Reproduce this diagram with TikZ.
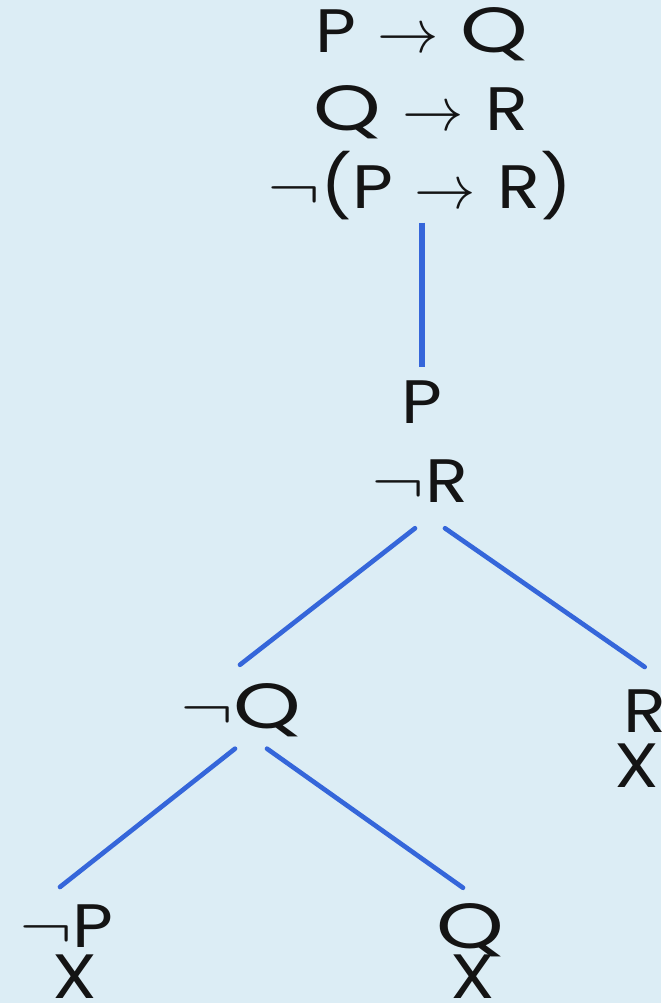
\RequirePackage{fix-cm}
\documentclass[tikz,border=0pt]{standalone}
\usepackage{fontspec}
\newfontfamily\geo[FakeStretch=1.15]{Poppins}
\usetikzlibrary{calc}
\definecolor{bg}{HTML}{DCEDF5}
\definecolor{branchblue}{HTML}{3566DA}
\definecolor{ink}{HTML}{141414}
% implication arrow with its surrounding space, negation sign, and a round Q
\newcommand{\imp}{\hspace{16pt}$\rightarrow$\hspace{16pt}}
\newcommand{\nt}{\scalebox{1.3}[1]{$\neg$}}
\newcommand{\qq}{\scalebox{1.22}[1.04]{Q}}
\begin{document}
\begin{tikzpicture}[x=0.75pt,y=-0.75pt,
  formula/.style={font=\geo\fontsize{46}{52}\selectfont, text=ink, inner sep=0pt, anchor=base},
  closed/.style={font=\geo\fontsize{47}{52}\selectfont, text=ink, inner sep=0pt, anchor=base},
  trunk/.style={draw=branchblue, line width=4.5pt},
  branch/.style={draw=branchblue, line width=3.5pt, line cap=round}]
\fill[bg] (0,0) rectangle (661,1003);
\useasboundingbox (0,0) rectangle (661,1003);

% premises and negated conclusion
\node[formula] (f1) at (422,52) {P\imp\qq};
\node[formula] (f2) at (421,130) {\qq\imp R};
\node[formula] (f3) at (420,208) {\nt(P\imp R)};

% trunk
\node[formula] (p) at (422,423) {P};
\node[formula] (nr) at (420,502) {\nt R};

% first split
\node[formula] (nq) at (241,728) {\nt\qq};
\node[formula, anchor=base west] (r) at (623,732) {R};
\node[closed, anchor=base west] (rx) at (614,787) {X};

% second split
\node[formula] (np) at (66,947) {\nt P};
\node[closed] (npx) at (75,998) {X};
\node[formula] (q) at (470,948) {\qq};
\node[closed] (qx) at (473,998) {X};

% connectors
\draw[trunk] (p.north |- f3.south) ++(0,3) coordinate (t0) (t0) -- ($(p.north)+(0,-13)$);
\draw[branch] ($(nr.south)+(-5,26)$) -- ($(nq.north)+(-1,-18)$);
\draw[branch] ($(nr.south)+(25,26)$) -- ($(r.north)+(0,-22)$);
\draw[branch] ($(nq.south)+(-6,12)$) -- ($(np.north)+(-6,-17)$);
\draw[branch] ($(nq.south)+(26,12)$) -- ($(q.north)+(-7,-15)$);
\end{tikzpicture}
\end{document}
